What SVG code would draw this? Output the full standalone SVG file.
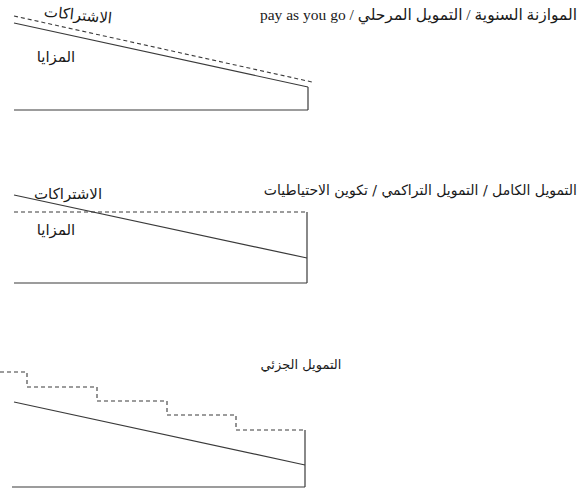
<svg xmlns="http://www.w3.org/2000/svg" width="579" height="491" viewBox="0 0 579 491">
<style>
.ln{fill:none;stroke:#3a3a3a;stroke-width:1.2}
.ds{fill:none;stroke:#3a3a3a;stroke-width:1.1;stroke-dasharray:4 3}
.t{font-family:"Liberation Serif","DejaVu Sans",serif;font-size:15.5px;fill:#1a1a1a}
.a{font-family:"DejaVu Sans",sans-serif;font-size:15px;fill:#1a1a1a}
</style>
<rect width="579" height="491" fill="#ffffff"/>
<g id="connectors">
<line class="ds" x1="14" y1="16" x2="312" y2="82"/>
<line class="ln" x1="14" y1="23" x2="308" y2="87"/>
<line class="ln" x1="308" y1="87" x2="308" y2="110"/>
<line class="ln" x1="14" y1="110" x2="308" y2="110"/>
<line class="ln" x1="14" y1="195" x2="307" y2="258"/>
<line class="ds" x1="14" y1="212" x2="307" y2="212"/>
<line class="ln" x1="307" y1="212" x2="307" y2="283"/>
<line class="ln" x1="14" y1="283" x2="307" y2="283"/>
<path class="ds" d="M0,372 H27 V387 H97 V401 H167 V415 H236 V430 H305"/>
<line class="ln" x1="305" y1="430" x2="305" y2="487"/>
<line class="ln" x1="14" y1="402" x2="305" y2="465"/>
<line class="ln" x1="12" y1="487" x2="305" y2="487"/>
</g>
<g id="title1"><text class="t" x="577" y="20" direction="rtl" text-anchor="start">الموازنة السنوية / التمويل المرحلي / pay as you go</text></g>
<g id="label1a"><text class="a" x="78" y="20" text-anchor="middle" transform="rotate(6 78 15)">الاشتراكات</text></g>
<g id="label1b"><text class="a" x="56" y="62" text-anchor="middle">المزايا</text></g>
<g id="title2"><text class="a" x="577" y="195" direction="rtl" text-anchor="start" style="font-size:14px">التمويل الكامل / التمويل التراكمي / تكوين الاحتياطيات</text></g>
<g id="label2a"><text class="a" x="68" y="199" text-anchor="middle">الاشتراكات</text></g>
<g id="label2b"><text class="a" x="56" y="235" text-anchor="middle">المزايا</text></g>
<g id="title3"><text class="a" x="301" y="369" text-anchor="middle" style="font-size:13px">التمويل الجزئي</text></g>
</svg>
